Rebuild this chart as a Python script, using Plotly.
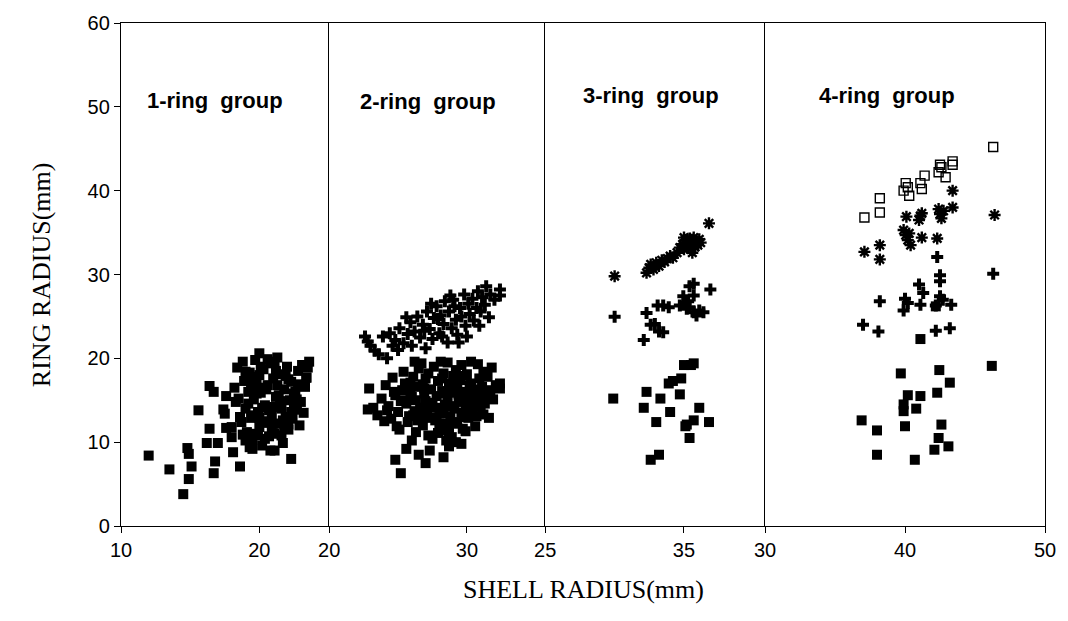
import plotly.graph_objects as go

# ---------------- data ----------------
# Panel 1 : 1-ring group (filled squares = ring 1)
p1_sq_x = [12.0, 13.5, 14.5, 14.8, 14.9, 15.1, 14.9, 15.6, 16.2, 16.4, 16.7, 16.8, 17.0, 16.7, 16.4,
           17.4, 17.5, 17.6, 17.6, 18.0, 18.1, 18.6, 22.3, 23.4, 23.1, 22.7, 22.1, 21.1, 19.5,
           18.2, 18.4, 18.5, 18.7, 18.8, 18.9, 19.0, 19.1, 19.2, 19.3, 19.4, 19.5, 19.6, 19.7, 19.8,
           19.9, 20.0, 20.0, 20.1, 20.2, 20.3, 20.4, 20.5, 20.6, 20.7, 20.8, 20.9, 21.0, 21.1, 21.2,
           21.3, 21.4, 21.5, 21.6, 21.7, 21.8, 21.9, 22.0, 22.1, 22.2, 22.3, 22.4, 22.6, 22.7, 22.8,
           23.0, 23.1, 23.3, 23.4, 23.6, 23.5, 21.0, 20.5, 19.5, 20.2, 21.6, 22.5, 19.0, 18.0, 19.3,
           20.8, 21.3, 20.0, 22.9, 19.8, 20.9,
           18.3, 18.6, 19.0, 19.4, 19.7, 20.1, 20.4, 20.7, 21.1, 21.4, 21.8, 22.1, 22.5, 22.8, 23.2,
           18.8, 19.2, 19.6, 20.0, 20.3, 20.6, 21.0, 21.5, 21.9, 22.3, 22.7, 20.2, 21.2, 19.9, 21.7]
p1_sq_y = [8.4, 6.75, 3.8, 9.3, 8.6, 7.1, 5.6, 13.8, 9.9, 11.6, 6.3, 7.7, 9.9, 16.0, 16.7,
           13.9, 13.4, 15.5, 11.7, 10.6, 8.8, 7.1, 8.0, 17.7, 19.2, 13.9, 12.1, 9.0, 9.2,
           16.5, 18.9, 15.2, 12.4, 19.6, 17.3, 14.0, 11.2, 16.0, 18.3, 12.9, 10.3, 15.1, 19.8, 17.0,
           13.6, 20.6, 11.8, 15.9, 9.6, 18.7, 14.4, 12.5, 16.8, 10.7, 19.4, 13.3, 17.6, 11.0, 15.4,
           20.1, 12.2, 18.1, 14.0, 9.9, 16.3, 13.0, 19.0, 11.5, 15.0, 17.2, 12.8, 16.0, 13.9, 18.5,
           14.8, 19.2, 16.6, 17.7, 19.6, 18.9, 14.2, 16.3, 13.2, 12.3, 10.8, 14.3, 10.2, 11.8, 9.4,
           9.0, 16.8, 18.0, 12.0, 15.8, 11.7,
           14.8, 13.0, 18.4, 16.8, 11.0, 19.0, 10.4, 13.8, 19.6, 15.6, 11.9, 17.5, 15.8, 16.9, 13.5,
           10.9, 14.6, 17.8, 12.9, 16.5, 19.9, 12.2, 14.9, 17.9, 13.6, 15.1, 14.1, 18.5, 10.8, 12.6]

# Panel 2 : 2-ring group
p2_plus_x = [22.6, 22.8, 23.0, 23.3, 23.6, 24.2, 23.9, 24.4, 24.8, 25.1, 25.4, 25.7, 25.9, 26.2, 26.4,
             26.6, 26.8, 27.0, 27.1, 27.3, 27.5, 27.6, 27.8, 28.0, 28.1, 28.3, 28.4, 28.6, 28.7, 28.9,
             29.0, 29.2, 29.3, 29.5, 29.6, 29.8, 29.9, 30.1, 30.2, 30.4, 30.5, 30.7, 30.8, 31.0, 31.1,
             31.3, 31.4, 31.6, 31.7, 32.0, 32.4, 32.4, 26.0, 25.0, 27.4, 28.8, 29.4, 30.0, 26.9, 28.2,
             30.9, 29.1, 27.9, 24.6, 25.6]
p2_plus_y = [22.6, 22.0, 21.5, 20.9, 20.5, 20.0, 22.6, 23.0, 22.2, 23.6, 21.8, 22.9, 24.3, 23.2, 25.0,
             22.5, 24.0, 21.2, 25.6, 23.5, 22.3, 24.8, 26.2, 23.0, 25.1, 24.1, 26.8, 21.9, 25.6, 23.6,
             27.0, 24.6, 22.8, 26.0, 25.0, 27.6, 23.9, 26.5, 25.3, 27.1, 24.5, 26.0, 28.0, 25.6, 27.3,
             26.4, 28.6, 24.9, 27.6, 27.0, 28.2, 27.5, 21.5, 21.0, 26.5, 27.5, 21.9, 22.6, 23.3, 22.6,
             23.9, 26.2, 24.7, 21.5, 24.9]
p2_sq_x = [22.9, 22.8, 23.2, 23.5, 24.0, 24.8, 25.2, 25.6, 26.2, 26.5, 27.3, 27.5, 28.1, 28.3, 28.7,
           29.2, 29.6, 30.3, 30.8, 31.8, 32.4, 32.4, 31.6, 30.8, 29.9, 26.0, 27.0,
           23.8, 24.1, 24.3, 24.5, 24.6, 24.8, 25.0, 25.1, 25.3, 25.4, 25.6, 25.7, 25.9, 26.0, 26.1,
           26.3, 26.4, 26.5, 26.6, 26.8, 26.9, 27.0, 27.1, 27.2, 27.4, 27.5, 27.6, 27.7, 27.8, 27.9,
           28.0, 28.1, 28.2, 28.3, 28.4, 28.5, 28.6, 28.7, 28.8, 28.9, 29.0, 29.1, 29.2, 29.3, 29.4,
           29.5, 29.6, 29.7, 29.8, 29.9, 30.0, 30.1, 30.2, 30.3, 30.4, 30.5, 30.6, 30.7, 30.9, 31.0,
           31.1, 31.2, 31.4, 31.5, 31.7, 31.9, 32.1, 26.7, 28.6, 29.6, 27.3, 28.3, 25.5, 29.4, 30.2,
           26.2, 28.9,
           24.2, 24.7, 25.2, 25.8, 26.3, 26.8, 27.3, 27.8, 28.3, 28.8, 29.3, 29.8, 30.3, 30.8, 31.3,
           24.9, 25.5, 26.1, 26.7, 27.2, 27.7, 28.2, 28.7, 29.2, 29.7, 30.2, 30.7, 31.2, 25.9, 26.9,
           27.9, 28.9, 29.9, 30.9, 27.0, 28.0, 29.0, 30.0, 26.4, 28.5]
p2_sq_y = [16.4, 13.9, 14.1, 13.2, 12.5, 7.9, 6.3, 9.2, 19.6, 8.5, 9.0, 10.4, 19.6, 8.2, 9.5,
           10.0, 9.8, 19.6, 19.3, 18.9, 16.4, 17.0, 12.9, 14.8, 11.3, 10.2, 7.5,
           15.2, 16.8, 14.3, 12.8, 17.7, 15.6, 13.6, 11.5, 16.2, 18.4, 14.6, 12.4, 17.1, 15.4, 13.2,
           11.2, 16.6, 18.8, 14.1, 12.0, 15.8, 17.6, 13.4, 10.8, 16.3, 14.7, 19.0, 12.6, 15.5, 17.3,
           13.8, 11.4, 16.1, 18.2, 14.5, 12.2, 15.2, 17.0, 13.1, 10.6, 16.5, 14.0, 18.6, 12.4, 15.7,
           17.4, 13.5, 11.6, 16.0, 14.6, 18.1, 12.9, 15.3, 17.0, 13.9, 16.3, 11.9, 15.0, 17.6, 14.2,
           16.6, 13.3, 15.6, 17.8, 16.2, 15.1, 16.8, 19.4, 19.5, 19.2, 12.9, 15.8, 15.0, 14.8, 14.4,
           13.7, 16.9,
           13.8, 16.0, 14.9, 13.1, 15.0, 16.9, 14.5, 12.9, 13.4, 15.9, 16.8, 13.0, 15.8, 16.1, 14.6,
           11.9, 17.0, 17.8, 13.0, 18.2, 14.1, 17.6, 11.2, 12.2, 17.9, 16.7, 13.1, 18.4, 16.0, 16.4,
           11.1, 14.3, 15.4, 15.6, 14.9, 12.2, 17.9, 13.6, 12.6, 10.2]

# Panel 3 : 3-ring group
p3_ast_x = [30.0, 32.3, 32.5, 32.6, 32.8, 33.0, 33.2, 33.4, 33.6, 33.8, 34.0, 34.2, 34.5, 34.7, 34.9,
            35.0, 35.1, 35.2, 35.3, 35.4, 35.5, 35.6, 35.7, 35.8, 35.9, 36.0, 36.1, 36.2, 35.6, 35.0,
            36.8]
p3_ast_y = [29.8, 30.2, 30.8, 31.2, 30.6, 31.4, 31.0, 31.7, 31.5, 31.9, 32.2, 32.0, 32.6, 33.2, 33.6,
            33.0, 34.1, 33.4, 33.8, 34.3, 33.1, 33.7, 34.4, 33.3, 34.0, 33.5, 34.2, 33.8, 32.6, 34.4,
            36.1]
p3_plus_x = [30.0, 32.1, 32.3, 32.6, 32.9, 33.2, 33.5, 33.1, 33.5, 33.9, 34.7, 34.95, 35.3, 35.7, 35.7,
             35.4, 35.2, 35.7, 36.1, 36.4, 35.9, 36.9, 35.4, 35.1]
p3_plus_y = [24.96, 22.2, 25.4, 24.0, 24.1, 23.2, 23.1, 26.3, 26.3, 26.1, 26.3, 27.4, 26.8, 27.5, 28.9,
             28.6, 25.9, 25.5, 25.7, 25.5, 25.1, 28.2, 26.1, 26.6]
p3_sq_x = [29.9, 32.3, 32.1, 33.3, 33.0, 34.0, 33.9, 34.2, 34.8, 34.7, 35.5, 35.2, 35.7, 36.1, 36.8,
           35.4, 32.6, 33.2, 35.1, 35.0, 35.7]
p3_sq_y = [15.2, 16.0, 14.1, 15.2, 12.4, 13.6, 17.0, 17.3, 17.6, 15.7, 19.2, 12.1, 12.6, 14.1, 12.4,
           10.5, 7.9, 8.5, 11.9, 19.2, 19.4]

# Panel 4 : 4-ring group
p4_open_x = [37.1, 38.2, 38.2, 40.05, 39.9, 40.3, 40.2, 41.1, 41.2, 41.4, 42.4, 42.5, 42.6, 42.9, 43.4,
             43.4, 46.3]
p4_open_y = [36.8, 39.1, 37.4, 40.9, 40.0, 39.4, 40.4, 40.9, 40.2, 41.8, 42.2, 43.1, 42.8, 41.6, 43.5,
             43.1, 45.2]
p4_ast_x = [37.1, 38.2, 38.2, 40.1, 39.9, 40.05, 40.2, 40.4, 41.1, 41.2, 41.0, 41.2, 42.3, 42.4, 42.5,
            42.6, 42.75, 43.4, 43.4, 46.4, 40.3]
p4_ast_y = [32.7, 33.5, 31.8, 36.9, 35.3, 34.7, 34.1, 33.5, 37.0, 37.3, 36.5, 34.4, 34.3, 37.8, 37.2,
            36.7, 37.6, 40.0, 38.0, 37.1, 34.9]
p4_plus_x = [37.0, 38.1, 38.2, 40.0, 40.2, 39.9, 41.0, 41.3, 41.1, 42.3, 42.5, 42.5, 42.5, 42.7, 42.2,
             43.3, 42.2, 43.2, 46.3]
p4_plus_y = [24.0, 23.2, 26.8, 27.1, 26.6, 25.7, 28.8, 27.8, 26.4, 32.1, 29.9, 29.2, 27.4, 27.0, 26.3,
             26.4, 23.3, 23.6, 30.1]
p4_sq_x = [42.2, 41.1, 46.2, 39.7, 42.45, 43.2, 42.3, 40.2, 41.1, 39.9, 39.9, 40.8, 36.9, 38.0, 40.0,
           42.6, 42.4, 43.1, 42.1, 38.0, 40.7]
p4_sq_y = [26.2, 22.3, 19.1, 18.2, 18.6, 17.1, 15.9, 15.6, 15.5, 14.5, 13.7, 14.0, 12.6, 11.4, 11.9,
           12.1, 10.5, 9.5, 9.1, 8.5, 7.9]

group_labels = ["1-ring\u00a0 group", "2-ring\u00a0 group", "3-ring\u00a0 group", "4-ring\u00a0 group"]
label_x = [16.8, 27.2, 32.6, 38.7]
label_y = [50.7, 50.6, 51.3, 51.3]

x_ranges = [[10, 25.05], [20, 35.69], [25, 40.84], [30, 50]]
x_ticks = [[10, 20], [20, 30], [25, 35], [30, 40, 50]]
y_ticks = [0, 10, 20, 30, 40, 50, 60]

# ---------------- figure ----------------
fig = go.Figure()

SQ = dict(symbol="square", size=10, color="black", line=dict(width=0))
PLUS = dict(symbol="cross", size=10, color="black", line=dict(width=0))
AST = dict(symbol="asterisk-open", size=10, color="black", line=dict(width=2.4, color="black"))
OPEN = dict(symbol="square-open", size=9, color="black", line=dict(width=1.4, color="black"))

def add(x, y, marker, axis):
    xa = "x" if axis == 1 else f"x{axis}"
    ya = "y" if axis == 1 else f"y{axis}"
    fig.add_trace(go.Scatter(x=x, y=y, mode="markers", marker=marker, xaxis=xa, yaxis=ya,
                             showlegend=False, hoverinfo="x+y", cliponaxis=False))

add(p1_sq_x, p1_sq_y, SQ, 1)
add(p2_sq_x, p2_sq_y, SQ, 2)
add(p2_plus_x, p2_plus_y, PLUS, 2)
add(p3_sq_x, p3_sq_y, SQ, 3)
add(p3_plus_x, p3_plus_y, PLUS, 3)
add(p3_ast_x, p3_ast_y, AST, 3)
add(p4_sq_x, p4_sq_y, SQ, 4)
add(p4_plus_x, p4_plus_y, PLUS, 4)
add(p4_ast_x, p4_ast_y, AST, 4)
add(p4_open_x, p4_open_y, OPEN, 4)

W, H = 1068, 621
L, R, T, B = 121, 12, 17, 95
pw = W - L - R
bounds_px = [121, 331.7, 550.3, 772.7, 1056]
domains = [[(bounds_px[i] - L) / pw, min(1.0, (bounds_px[i + 1] - L) / pw)] for i in range(4)]

tickfont = dict(family="Liberation Sans, Arial, sans-serif", size=20, color="black")
LW = 1.3
layout = dict(
    width=W, height=H,
    margin=dict(l=L, r=R, t=T, b=B),
    paper_bgcolor="white", plot_bgcolor="white",
    showlegend=False,
)
for i in range(4):
    n = "" if i == 0 else str(i + 1)
    layout[f"xaxis{n}"] = dict(
        domain=domains[i], range=x_ranges[i], tickvals=x_ticks[i],
        ticktext=[str(v) for v in x_ticks[i]],
        ticks="outside", ticklen=6, tickwidth=1.2, tickcolor="black",
        showline=True, linecolor="black", linewidth=LW, mirror=True,
        showgrid=False, zeroline=False, tickfont=tickfont,
        anchor="y" if i == 0 else f"y{i+1}",
    )
    layout[f"yaxis{n}"] = dict(
        range=[0, 60], tickvals=y_ticks,
        ticks="outside" if i == 0 else "", ticklen=6, tickwidth=1.2, tickcolor="black",
        showticklabels=(i == 0),
        showline=True, linecolor="black", linewidth=LW, mirror=(i == 3),
        showgrid=False, zeroline=False, tickfont=tickfont,
        anchor="x" if i == 0 else f"x{i+1}",
        matches=None if i == 0 else "y",
    )
fig.update_layout(**layout)

for i in range(4):
    n = "" if i == 0 else str(i + 1)
    fig.add_annotation(x=label_x[i], y=label_y[i], xref=f"x{n}", yref=f"y{n}",
                       text=group_labels[i], showarrow=False,
                       font=dict(family="Liberation Sans, Arial, sans-serif", size=22, color="black",
                                 weight="bold"))

fig.add_annotation(x=0.5, y=-(607 - 526) / (H - T - B), xref="paper", yref="paper",
                   text="SHELL RADIUS(mm)", showarrow=False,
                   font=dict(family="Liberation Serif, Times New Roman, serif", size=26, color="black"))
fig.add_annotation(x=-(121 - 24) / pw, y=0.5, xref="paper", yref="paper",
                   text="RING RADIUS(mm)", showarrow=False, textangle=-90,
                   font=dict(family="Liberation Serif, Times New Roman, serif", size=26, color="black"))

fig.write_html("out.html")
